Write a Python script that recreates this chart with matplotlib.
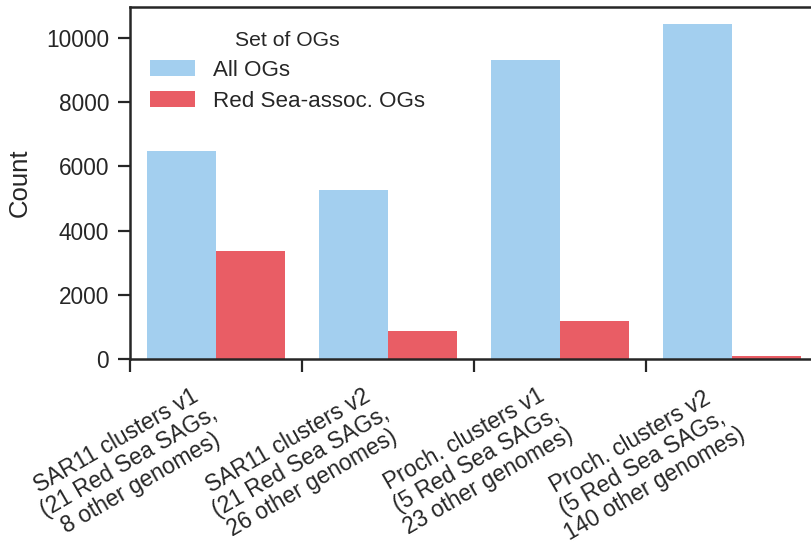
import matplotlib
matplotlib.use("Agg")
import matplotlib.pyplot as plt
import matplotlib.transforms as mtransforms
import numpy as np

# OG counts per clustering run
groups = [
    "SAR11 clusters v1\n(21 Red Sea SAGs,\n8 other genomes)",
    "SAR11 clusters v2\n(21 Red Sea SAGs,\n26 other genomes)",
    "Proch. clusters v1\n(5 Red Sea SAGs,\n23 other genomes)",
    "Proch. clusters v2\n(5 Red Sea SAGs,\n140 other genomes)",
]
all_ogs = [6480, 5270, 9320, 10440]
red_sea_ogs = [3370, 875, 1185, 95]
series_names = ["All OGs", "Red Sea-assoc. OGs"]
colors = ["#a3cfef", "#e95d65"]

plt.rcParams["font.family"] = ["Liberation Sans", "DejaVu Sans"]
plt.rcParams["text.color"] = "#262626"
plt.rcParams["axes.labelcolor"] = "#262626"
plt.rcParams["xtick.color"] = "#262626"
plt.rcParams["ytick.color"] = "#262626"

fig = plt.figure(figsize=(8.12, 5.44), dpi=100)
ax = fig.add_axes([130 / 812, 1 - 359 / 544, 688 / 812, 352 / 544])

x = np.arange(len(groups))
w = 0.4
ax.bar(x - w / 2, all_ogs, width=w, color=colors[0], label=series_names[0])
ax.bar(x + w / 2, red_sea_ogs, width=w, color=colors[1], label=series_names[1])

ax.set_xlim(-0.5, len(groups) - 0.5)
ax.set_ylim(0, max(all_ogs) * 1.05)
ax.set_yticks(range(0, 10001, 2000))
ax.set_ylabel("Count", fontsize=18.5, labelpad=10)

# labels sit at group centres, tick marks between groups
ax.set_xticks(x)
ax.set_xticklabels(groups, rotation=30, ha="right", multialignment="center",
                   fontsize=16.4, linespacing=1.07)
ax.tick_params(axis="x", which="major", length=0, pad=16)
ax.set_xticks(x - 0.5, minor=True)
ax.tick_params(axis="x", which="minor", length=9, width=1.6, direction="out")
ax.tick_params(axis="y", labelsize=16.3, length=9, width=1.6, direction="out", pad=6)

shift = mtransforms.ScaledTranslation(17 / 100, 0, fig.dpi_scale_trans)
for lab in ax.get_xticklabels():
    lab.set_transform(lab.get_transform() + shift)

for side in ["left", "top", "bottom", "right"]:
    ax.spines[side].set_linewidth(1.8)
    ax.spines[side].set_color("#262626")

leg = ax.legend(title="Set of OGs", frameon=False, fontsize=16.1,
                title_fontsize=15.2, loc="upper left",
                bbox_to_anchor=(0.0, 0.99), handlelength=2.0,
                handleheight=0.72, labelspacing=0.45)

fig.savefig("out.png", dpi=100)
